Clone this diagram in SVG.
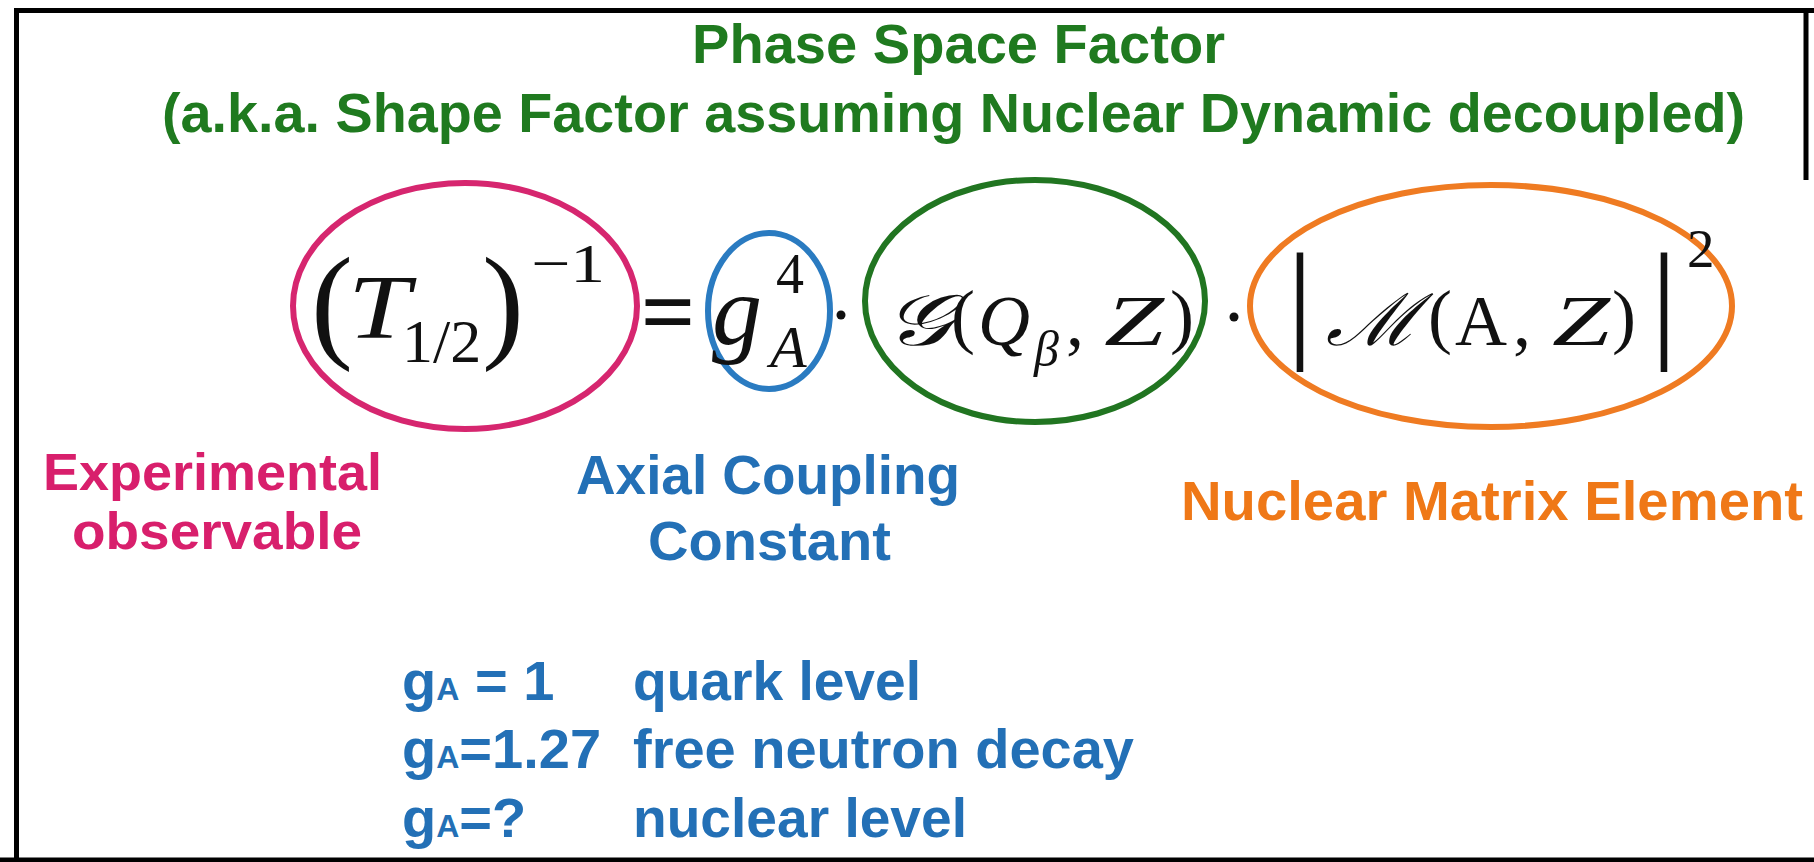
<svg xmlns="http://www.w3.org/2000/svg" width="1814" height="862" viewBox="0 0 1814 862">
<style>
.lbl{font-family:"Liberation Sans",Arial,sans-serif;font-weight:bold;font-size:56px}
.green{fill:#1f7a1f}
.pink{fill:#d81f6c}
.blue{fill:#2370b6}
.orange{fill:#ef7817}
.m{font-family:"Liberation Serif","Times New Roman",serif;fill:#111}
.i{font-style:italic}
.ell{fill:none;stroke-width:6}
</style>
<rect x="0" y="0" width="1814" height="862" fill="#fff"/>
<g id="frame" fill="none" stroke="#000" stroke-width="5">
<path d="M16.5,862 V10.5 H1814"/>
<path d="M1806,8 V180"/>
<path d="M0,860 H1814"/>
</g>
<g id="title" class="lbl green">
<text x="692" y="63" textLength="533" lengthAdjust="spacingAndGlyphs">Phase Space Factor</text>
<text x="162" y="132" textLength="1583" lengthAdjust="spacingAndGlyphs">(a.k.a. Shape Factor assuming Nuclear Dynamic decoupled)</text>
</g>
<g id="connectors"></g>
<g id="node-halflife">
<ellipse class="ell" cx="465" cy="306" rx="172" ry="123" stroke="#d6266f"/>
<text class="m" x="311" y="345" font-size="126">(</text>
<text class="m i" x="348" y="338" font-size="92" textLength="62" lengthAdjust="spacingAndGlyphs">T</text>
<text class="m" x="402" y="362" font-size="62">1/2</text>
<text class="m" x="482" y="345" font-size="126">)</text>
<text class="m" x="531" y="282" font-size="55" textLength="74" lengthAdjust="spacingAndGlyphs">−1</text>
</g>
<g id="equals">
<text class="m" x="668" y="344" font-size="96" font-weight="bold" text-anchor="middle">=</text>
</g>
<g id="node-ga">
<ellipse class="ell" cx="769" cy="311" rx="61" ry="78" stroke="#2a7bc1" stroke-width="5"/>
<text class="m i" x="712" y="344" font-size="100">g</text>
<text class="m" x="776" y="293" font-size="56">4</text>
<text class="m i" x="770" y="367" font-size="60">A</text>
</g>
<circle cx="841" cy="315" r="4.5" fill="#111"/>
<g id="node-phase">
<ellipse class="ell" cx="1035" cy="301" rx="170" ry="121" stroke="#217521"/>
<text class="m i" x="884" y="345" font-size="72" textLength="67" lengthAdjust="spacingAndGlyphs">𝒢</text>
<text class="m" x="951" y="340" font-size="72">(</text>
<text class="m i" x="978" y="345" font-size="72">Q</text>
<text class="m i" x="1034" y="366" font-size="50">β</text>
<text class="m" x="1066" y="345" font-size="72">,</text>
<text class="m i" x="1104" y="345" font-size="72" textLength="60" lengthAdjust="spacingAndGlyphs">Z</text>
<text class="m" x="1170" y="340" font-size="72">)</text>
</g>
<circle cx="1234" cy="317" r="4.5" fill="#111"/>
<g id="node-nme">
<ellipse class="ell" cx="1491" cy="306" rx="241" ry="121" stroke="#ef7b22"/>
<text class="m" x="1300" y="344" font-size="132" text-anchor="middle">|</text>
<text class="m i" x="1326" y="345" font-size="72" textLength="93" lengthAdjust="spacingAndGlyphs">ℳ</text>
<text class="m" x="1428" y="340" font-size="72">(</text>
<text class="m" x="1455" y="345" font-size="72">A</text>
<text class="m" x="1513" y="345" font-size="72">,</text>
<text class="m i" x="1552" y="345" font-size="72" textLength="58" lengthAdjust="spacingAndGlyphs">Z</text>
<text class="m" x="1612" y="340" font-size="72">)</text>
<text class="m" x="1664" y="344" font-size="132" text-anchor="middle">|</text>
<text class="m" x="1687" y="267" font-size="55">2</text>
</g>
<g id="label-experimental" class="lbl pink" style="font-size:52px">
<text x="43" y="490" textLength="339" lengthAdjust="spacingAndGlyphs">Experimental</text>
<text x="72" y="549" textLength="290" lengthAdjust="spacingAndGlyphs">observable</text>
</g>
<g id="label-axial" class="lbl blue">
<text x="576" y="494" textLength="384" lengthAdjust="spacingAndGlyphs">Axial Coupling</text>
<text x="648" y="560" textLength="243" lengthAdjust="spacingAndGlyphs">Constant</text>
</g>
<g id="label-nme" class="lbl orange">
<text x="1181" y="520" textLength="622" lengthAdjust="spacingAndGlyphs">Nuclear Matrix Element</text>
</g>
<g id="ga-values" class="lbl blue">
<text x="402" y="700">g<tspan font-size="32">A</tspan> = 1</text>
<text x="402" y="768">g<tspan font-size="32">A</tspan>=1.27</text>
<text x="402" y="837">g<tspan font-size="32">A</tspan>=?</text>
<text x="633" y="700" textLength="288" lengthAdjust="spacingAndGlyphs">quark level</text>
<text x="633" y="768" textLength="501" lengthAdjust="spacingAndGlyphs">free neutron decay</text>
<text x="633" y="837" textLength="334" lengthAdjust="spacingAndGlyphs">nuclear level</text>
</g>
</svg>
